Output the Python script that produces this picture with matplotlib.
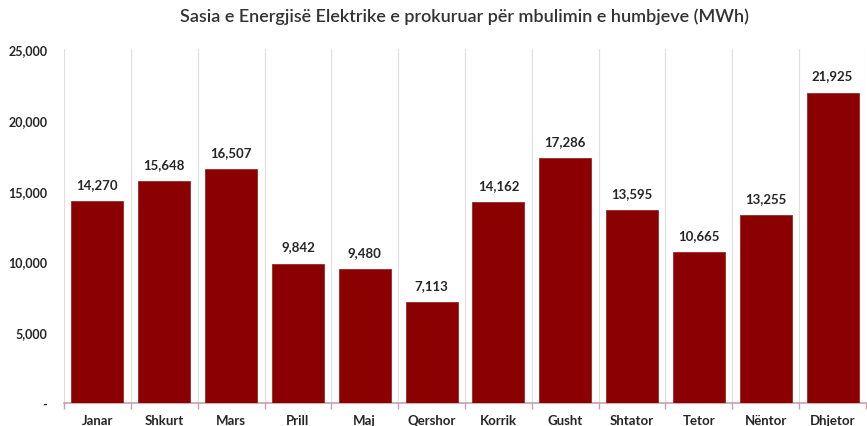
import matplotlib.pyplot as plt
import numpy as np
from matplotlib.ticker import FuncFormatter

plt.rcParams['font.family'] = ['Lato', 'DejaVu Sans']

months = ["Janar", "Shkurt", "Mars", "Prill", "Maj", "Qershor",
          "Korrik", "Gusht", "Shtator", "Tetor", "Nëntor", "Dhjetor"]
values = [14270, 15648, 16507, 9842, 9480, 7113,
          14162, 17286, 13595, 10665, 13255, 21925]
yticks = [0, 5000, 10000, 15000, 20000, 25000]

text_color = "#262626"
bar_color = "#8B0000"

fig = plt.figure(figsize=(8.67, 4.27), dpi=100)
ax = fig.add_axes([64 / 867, 23 / 427, 802 / 867, 354 / 427])

x = np.arange(len(months))
ax.bar(x, values, width=0.78, color=bar_color, edgecolor="#9a2a2a", linewidth=0.6, zorder=3)

for xi, v in zip(x, values):
    ax.annotate(f"{v:,}", (xi, v), xytext=(0, 8), textcoords="offset points",
                ha="center", va="bottom", fontsize=9.5, fontweight="bold", color=text_color)

ax.set_xlim(-0.5, len(months) - 0.5)
ax.set_ylim(0, 25000)
ax.set_yticks(yticks)
ax.yaxis.set_major_formatter(FuncFormatter(lambda v, p: "-" if v == 0 else f"{int(v):,}"))
ax.tick_params(axis="y", length=0, pad=12, labelsize=9, labelcolor=text_color)
for lab in ax.get_yticklabels():
    lab.set_fontweight("bold")

# category boundaries: vertical gridlines + outward tick marks
bounds = np.arange(len(months) + 1) - 0.5
ax.set_xticks(bounds, minor=True)
ax.set_xticks(x)
ax.set_xticklabels(months, fontsize=9.5, fontweight="bold", color=text_color)
ax.tick_params(axis="x", which="major", length=0, pad=8)
ax.tick_params(axis="x", which="minor", length=4, color="#c8a0a8", width=1)
ax.grid(axis="x", which="minor", color="#e0e0e0", linewidth=0.9, zorder=0)

for s in ["top", "right", "left"]:
    ax.spines[s].set_visible(False)
ax.spines["bottom"].set_color("#c8a0a8")
ax.spines["bottom"].set_linewidth(1.2)

fig.text(465 / 867, 0.96, "Sasia e Energjisë Elektrike e prokuruar për mbulimin e humbjeve (MWh)",
         ha="center", va="center", fontsize=13, color="#333333", fontweight="semibold")

plt.savefig("out.png", dpi=100)
